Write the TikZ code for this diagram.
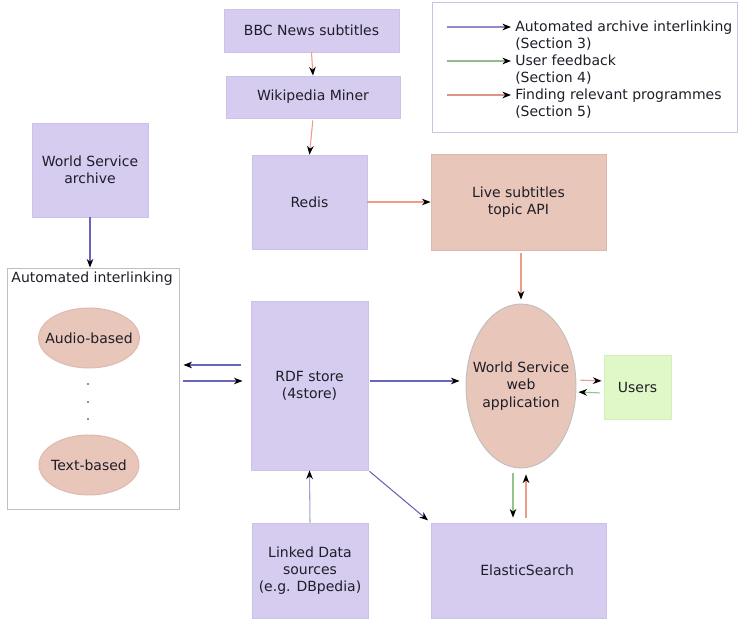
\documentclass[tikz,border=0pt]{standalone}
\usepackage{fontspec}
\setmainfont{DejaVu Sans}
\usetikzlibrary{shapes.geometric,arrows.meta}
\definecolor{lavfill}{HTML}{D5CCF0}
\definecolor{lavline}{HTML}{CAC2EA}
\definecolor{pinkfill}{HTML}{E8C6BA}
\definecolor{pinkline}{HTML}{DDB9AC}
\definecolor{usersfill}{HTML}{E0F8C8}
\definecolor{usersline}{HTML}{D4EEBC}
\definecolor{arrblue}{HTML}{6864B8}
\definecolor{arrgreen}{HTML}{92C48C}
\definecolor{arrred}{HTML}{F09A88}
\definecolor{arrgray}{HTML}{A6A2C8}
\definecolor{txt}{HTML}{1E1E28}
\begin{document}
\begin{tikzpicture}[x=0.75pt,y=-0.75pt,
    every node/.style={font=\fontsize{10.5}{13}\selectfont, text=txt},
    lavbox/.style={draw=lavline, fill=lavfill, line width=0.7pt, align=center, inner sep=0pt},
    pinkbox/.style={draw=pinkline, fill=pinkfill, line width=0.7pt, align=center, inner sep=0pt},
    tip/.style={-{Stealth[color=black,length=6.5pt,width=5pt]}},
    bluearr/.style={tip, draw=arrblue, line width=0.8pt},
    greenarr/.style={tip, draw=arrgreen, line width=0.8pt},
    redarr/.style={tip, draw=arrred, line width=0.8pt}]
    \useasboundingbox (0,0) rectangle (740,619);

    % legend
    \draw[draw=lavline, line width=0.7pt] (432,2) rectangle (737,132);
    \coordinate (legAs) at (447,27);
    \coordinate (legBs) at (447,61);
    \coordinate (legCs) at (447,95);
    \node[anchor=west, align=left, inner sep=0pt] (legA) at (515,35.5) {Automated archive interlinking\\(Section 3)};
    \node[anchor=west, align=left, inner sep=0pt] (legB) at (515,69.5) {User feedback\\(Section 4)};
    \node[anchor=west, align=left, inner sep=0pt] (legC) at (515,103.5) {Finding relevant programmes\\(Section 5)};
    \draw[bluearr, draw=arrblue!75, shorten >=3pt] (legAs) -- (legAs -| legA.west);
    \draw[greenarr, draw=arrgreen!90!gray, shorten >=3pt] (legBs) -- (legBs -| legB.west);
    \draw[redarr, draw=arrred!80!gray, shorten >=3pt] (legCs) -- (legCs -| legC.west);

    % subtitles chain
    \node[lavbox, minimum width=131.25pt, minimum height=32.25pt] (bbc) at (311.5,30.5) {BBC News subtitles};
    \node[lavbox, minimum width=130.5pt, minimum height=31.5pt] (wiki) at (313,97) {Wikipedia Miner};
    \node[lavbox, minimum width=86.25pt, minimum height=70.5pt] (redis) at (309.5,202) {Redis};
    \node[pinkbox, minimum width=131.25pt, minimum height=72pt] (live) at (518.5,202) {Live subtitles\\topic API};

    % archive side
    \node[lavbox, minimum width=87pt, minimum height=70.5pt] (wsa) at (90,170) {World Service\\archive};
    \node[draw=black!25, line width=0.7pt, minimum width=129pt, minimum height=180.75pt, inner sep=0pt] (auto) at (93,388.5) {};
    \node[anchor=north west, inner xsep=3.5pt, inner ysep=3pt] (autolbl) at (auto.north west) {Automated interlinking};
    \node[ellipse, pinkbox, inner xsep=-6pt, minimum width=75pt, minimum height=45pt] (audio) at (89,338) {Audio-based};
    \node[ellipse, pinkbox, inner xsep=-6pt, minimum width=75pt, minimum height=45pt] (textb) at (89,465) {Text-based};
    \fill[txt] (88,384) circle (0.7pt);
    \fill[txt] (88,402) circle (0.7pt);
    \fill[txt] (88,419) circle (0.7pt);

    % middle and right
    \node[lavbox, minimum width=87.75pt, minimum height=126.75pt] (rdf) at (309.5,385.5) {RDF store\\(4store)};
    \node[lavbox, minimum width=87pt, minimum height=71.25pt] (ld) at (310,570.5) {Linked Data\\sources\\(e.g. DBpedia)};
    \node[ellipse, pinkbox, draw=black!25, inner xsep=-7pt, minimum width=82.5pt, minimum height=123pt] (web) at (521,386) {World Service\\web\\application};
    \node[draw=usersline, fill=usersfill, line width=0.7pt, minimum width=50.25pt, minimum height=48pt, inner sep=0pt] (users) at (637.5,387) {Users};
    \node[lavbox, minimum width=131.25pt, minimum height=71.25pt] (es) at (518.5,570.5) {\hspace*{13pt}ElasticSearch};

    % connectors
    \draw[redarr] (bbc.south) -- (wiki.north);
    \draw[redarr, shorten <=1.5pt] (wiki.south) -- (redis.north);
    \draw[redarr] (redis.east) -- (live.west);
    \draw[redarr, shorten <=2pt, shorten >=3pt] (live.south -| web.north) -- (web.north);
    \draw[bluearr] (wsa.south) -- (wsa.south |- auto.north);
    \draw[bluearr, shorten <=7.5pt, shorten >=3pt] ([yshift=15.4pt]rdf.west) -- ([yshift=15.4pt]rdf.west -| auto.east);
    \draw[bluearr, shorten <=3pt, shorten >=6pt] ([yshift=3.4pt]rdf.west -| auto.east) -- ([yshift=3.4pt]rdf.west);
    \draw[bluearr, shorten <=1.5pt, shorten >=4.5pt] ([yshift=3.4pt]rdf.east) -- ([yshift=3.4pt]rdf.east -| web.west);
    \draw[bluearr, shorten <=1pt, shorten >=2.5pt] (rdf.south east) -- (es.north west);
    \draw[bluearr, draw=arrgray] (ld.north) -- (rdf.south);
    \draw[redarr, shorten <=2.5pt, shorten >=1.5pt] ([yshift=4.5pt]web.east) -- ([yshift=4.5pt]users.west);
    \draw[greenarr, shorten <=2.5pt, shorten >=1.5pt] ([yshift=-4.5pt]users.west) -- ([yshift=-4.5pt]web.east);
    \draw[greenarr, shorten <=3.75pt, shorten >=3.75pt] ([xshift=-6pt]web.south) -- ([xshift=-6pt]web.south |- es.north);
    \draw[redarr, shorten <=3.75pt, shorten >=4.5pt] ([xshift=3.75pt]web.south |- es.north) -- ([xshift=3.75pt]web.south);
\end{tikzpicture}
\end{document}
